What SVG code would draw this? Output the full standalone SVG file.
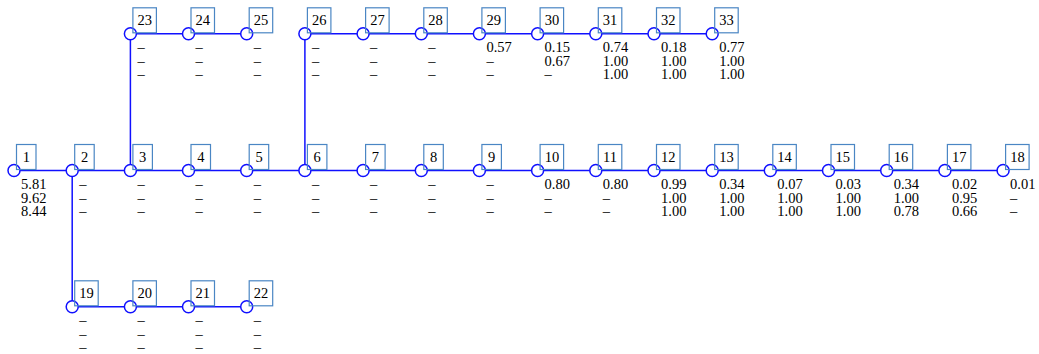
<svg xmlns="http://www.w3.org/2000/svg" width="1039" height="354" viewBox="0 0 1039 354">
<style>
.ln{stroke:#1010ff;stroke-width:1.5;fill:none}
.nd circle{fill:#fff;stroke:#1010ff;stroke-width:1.5}
.nd rect{fill:none;stroke:#4a86c4;stroke-width:1.2}
.lb{font-family:"Liberation Serif",serif;font-size:14.5px;fill:#000;text-anchor:middle}
.v{font-family:"Liberation Serif",serif;font-size:14.5px;fill:#000}
</style>
<rect width="1039" height="354" fill="#fff"/>
<g id="connectors">
<line class="ln" x1="14" y1="170.5" x2="1003.1" y2="170.5"/>
<line class="ln" x1="130.4" y1="33.8" x2="246.7" y2="33.8"/>
<line class="ln" x1="304.9" y1="33.8" x2="712.2" y2="33.8"/>
<line class="ln" x1="72.2" y1="306.8" x2="246.7" y2="306.8"/>
<line class="ln" x1="130.4" y1="33.8" x2="130.4" y2="170.5"/>
<line class="ln" x1="304.9" y1="33.8" x2="304.9" y2="170.5"/>
<line class="ln" x1="72.2" y1="170.5" x2="72.2" y2="306.8"/>
</g>
<g id="n1" class="nd"><circle cx="14" cy="170.5" r="6"/><rect x="16.5" y="144.5" width="19.5" height="25"/><text class="lb" x="26.3" y="161.5">1</text><text class="v" x="21" y="189">5.81<tspan x="21" y="202.5">9.62</tspan><tspan x="21" y="216">8.44</tspan></text></g>
<g id="n2" class="nd"><circle cx="72.2" cy="170.5" r="6"/><rect x="74.7" y="144.5" width="19.5" height="25"/><text class="lb" x="84.5" y="161.5">2</text><text class="v" x="79.2" y="189">–<tspan x="79.2" y="202.5">–</tspan><tspan x="79.2" y="216">–</tspan></text></g>
<g id="n3" class="nd"><circle cx="130.4" cy="170.5" r="6"/><rect x="132.9" y="144.5" width="19.5" height="25"/><text class="lb" x="142.7" y="161.5">3</text><text class="v" x="137.4" y="189">–<tspan x="137.4" y="202.5">–</tspan><tspan x="137.4" y="216">–</tspan></text></g>
<g id="n4" class="nd"><circle cx="188.5" cy="170.5" r="6"/><rect x="191" y="144.5" width="19.5" height="25"/><text class="lb" x="200.8" y="161.5">4</text><text class="v" x="195.5" y="189">–<tspan x="195.5" y="202.5">–</tspan><tspan x="195.5" y="216">–</tspan></text></g>
<g id="n5" class="nd"><circle cx="246.7" cy="170.5" r="6"/><rect x="249.2" y="144.5" width="19.5" height="25"/><text class="lb" x="259" y="161.5">5</text><text class="v" x="253.7" y="189">–<tspan x="253.7" y="202.5">–</tspan><tspan x="253.7" y="216">–</tspan></text></g>
<g id="n6" class="nd"><circle cx="304.9" cy="170.5" r="6"/><rect x="307.4" y="144.5" width="19.5" height="25"/><text class="lb" x="317.2" y="161.5">6</text><text class="v" x="311.9" y="189">–<tspan x="311.9" y="202.5">–</tspan><tspan x="311.9" y="216">–</tspan></text></g>
<g id="n7" class="nd"><circle cx="363.1" cy="170.5" r="6"/><rect x="365.6" y="144.5" width="19.5" height="25"/><text class="lb" x="375.4" y="161.5">7</text><text class="v" x="370.1" y="189">–<tspan x="370.1" y="202.5">–</tspan><tspan x="370.1" y="216">–</tspan></text></g>
<g id="n8" class="nd"><circle cx="421.3" cy="170.5" r="6"/><rect x="423.8" y="144.5" width="19.5" height="25"/><text class="lb" x="433.6" y="161.5">8</text><text class="v" x="428.3" y="189">–<tspan x="428.3" y="202.5">–</tspan><tspan x="428.3" y="216">–</tspan></text></g>
<g id="n9" class="nd"><circle cx="479.4" cy="170.5" r="6"/><rect x="481.9" y="144.5" width="19.5" height="25"/><text class="lb" x="491.7" y="161.5">9</text><text class="v" x="486.4" y="189">–<tspan x="486.4" y="202.5">–</tspan><tspan x="486.4" y="216">–</tspan></text></g>
<g id="n10" class="nd"><circle cx="537.6" cy="170.5" r="6"/><rect x="540.1" y="144.5" width="23.5" height="25"/><text class="lb" x="551.9" y="161.5">10</text><text class="v" x="544.6" y="189">0.80<tspan x="544.6" y="202.5">–</tspan><tspan x="544.6" y="216">–</tspan></text></g>
<g id="n11" class="nd"><circle cx="595.8" cy="170.5" r="6"/><rect x="598.3" y="144.5" width="23.5" height="25"/><text class="lb" x="610.1" y="161.5">11</text><text class="v" x="602.8" y="189">0.80<tspan x="602.8" y="202.5">–</tspan><tspan x="602.8" y="216">–</tspan></text></g>
<g id="n12" class="nd"><circle cx="654" cy="170.5" r="6"/><rect x="656.5" y="144.5" width="23.5" height="25"/><text class="lb" x="668.3" y="161.5">12</text><text class="v" x="661" y="189">0.99<tspan x="661" y="202.5">1.00</tspan><tspan x="661" y="216">1.00</tspan></text></g>
<g id="n13" class="nd"><circle cx="712.2" cy="170.5" r="6"/><rect x="714.7" y="144.5" width="23.5" height="25"/><text class="lb" x="726.5" y="161.5">13</text><text class="v" x="719.2" y="189">0.34<tspan x="719.2" y="202.5">1.00</tspan><tspan x="719.2" y="216">1.00</tspan></text></g>
<g id="n14" class="nd"><circle cx="770.3" cy="170.5" r="6"/><rect x="772.8" y="144.5" width="23.5" height="25"/><text class="lb" x="784.6" y="161.5">14</text><text class="v" x="777.3" y="189">0.07<tspan x="777.3" y="202.5">1.00</tspan><tspan x="777.3" y="216">1.00</tspan></text></g>
<g id="n15" class="nd"><circle cx="828.5" cy="170.5" r="6"/><rect x="831" y="144.5" width="23.5" height="25"/><text class="lb" x="842.8" y="161.5">15</text><text class="v" x="835.5" y="189">0.03<tspan x="835.5" y="202.5">1.00</tspan><tspan x="835.5" y="216">1.00</tspan></text></g>
<g id="n16" class="nd"><circle cx="886.7" cy="170.5" r="6"/><rect x="889.2" y="144.5" width="23.5" height="25"/><text class="lb" x="901" y="161.5">16</text><text class="v" x="893.7" y="189">0.34<tspan x="893.7" y="202.5">1.00</tspan><tspan x="893.7" y="216">0.78</tspan></text></g>
<g id="n17" class="nd"><circle cx="944.9" cy="170.5" r="6"/><rect x="947.4" y="144.5" width="23.5" height="25"/><text class="lb" x="959.2" y="161.5">17</text><text class="v" x="951.9" y="189">0.02<tspan x="951.9" y="202.5">0.95</tspan><tspan x="951.9" y="216">0.66</tspan></text></g>
<g id="n18" class="nd"><circle cx="1003.1" cy="170.5" r="6"/><rect x="1005.6" y="144.5" width="23.5" height="25"/><text class="lb" x="1017.4" y="161.5">18</text><text class="v" x="1010.1" y="189">0.01<tspan x="1010.1" y="202.5">–</tspan><tspan x="1010.1" y="216">–</tspan></text></g>
<g id="n19" class="nd"><circle cx="72.2" cy="306.8" r="6"/><rect x="74.7" y="280.8" width="23.5" height="25"/><text class="lb" x="86.5" y="297.8">19</text><text class="v" x="79.2" y="325.3">–<tspan x="79.2" y="338.8">–</tspan><tspan x="79.2" y="352.3">–</tspan></text></g>
<g id="n20" class="nd"><circle cx="130.4" cy="306.8" r="6"/><rect x="132.9" y="280.8" width="23.5" height="25"/><text class="lb" x="144.7" y="297.8">20</text><text class="v" x="137.4" y="325.3">–<tspan x="137.4" y="338.8">–</tspan><tspan x="137.4" y="352.3">–</tspan></text></g>
<g id="n21" class="nd"><circle cx="188.5" cy="306.8" r="6"/><rect x="191" y="280.8" width="23.5" height="25"/><text class="lb" x="202.8" y="297.8">21</text><text class="v" x="195.5" y="325.3">–<tspan x="195.5" y="338.8">–</tspan><tspan x="195.5" y="352.3">–</tspan></text></g>
<g id="n22" class="nd"><circle cx="246.7" cy="306.8" r="6"/><rect x="249.2" y="280.8" width="23.5" height="25"/><text class="lb" x="261" y="297.8">22</text><text class="v" x="253.7" y="325.3">–<tspan x="253.7" y="338.8">–</tspan><tspan x="253.7" y="352.3">–</tspan></text></g>
<g id="n23" class="nd"><circle cx="130.4" cy="33.8" r="6"/><rect x="132.9" y="7.8" width="23.5" height="25"/><text class="lb" x="144.7" y="24.8">23</text><text class="v" x="137.4" y="52.3">–<tspan x="137.4" y="65.8">–</tspan><tspan x="137.4" y="79.3">–</tspan></text></g>
<g id="n24" class="nd"><circle cx="188.5" cy="33.8" r="6"/><rect x="191" y="7.8" width="23.5" height="25"/><text class="lb" x="202.8" y="24.8">24</text><text class="v" x="195.5" y="52.3">–<tspan x="195.5" y="65.8">–</tspan><tspan x="195.5" y="79.3">–</tspan></text></g>
<g id="n25" class="nd"><circle cx="246.7" cy="33.8" r="6"/><rect x="249.2" y="7.8" width="23.5" height="25"/><text class="lb" x="261" y="24.8">25</text><text class="v" x="253.7" y="52.3">–<tspan x="253.7" y="65.8">–</tspan><tspan x="253.7" y="79.3">–</tspan></text></g>
<g id="n26" class="nd"><circle cx="304.9" cy="33.8" r="6"/><rect x="307.4" y="7.8" width="23.5" height="25"/><text class="lb" x="319.2" y="24.8">26</text><text class="v" x="311.9" y="52.3">–<tspan x="311.9" y="65.8">–</tspan><tspan x="311.9" y="79.3">–</tspan></text></g>
<g id="n27" class="nd"><circle cx="363.1" cy="33.8" r="6"/><rect x="365.6" y="7.8" width="23.5" height="25"/><text class="lb" x="377.4" y="24.8">27</text><text class="v" x="370.1" y="52.3">–<tspan x="370.1" y="65.8">–</tspan><tspan x="370.1" y="79.3">–</tspan></text></g>
<g id="n28" class="nd"><circle cx="421.3" cy="33.8" r="6"/><rect x="423.8" y="7.8" width="23.5" height="25"/><text class="lb" x="435.6" y="24.8">28</text><text class="v" x="428.3" y="52.3">–<tspan x="428.3" y="65.8">–</tspan><tspan x="428.3" y="79.3">–</tspan></text></g>
<g id="n29" class="nd"><circle cx="479.4" cy="33.8" r="6"/><rect x="481.9" y="7.8" width="23.5" height="25"/><text class="lb" x="493.7" y="24.8">29</text><text class="v" x="486.4" y="52.3">0.57<tspan x="486.4" y="65.8">–</tspan><tspan x="486.4" y="79.3">–</tspan></text></g>
<g id="n30" class="nd"><circle cx="537.6" cy="33.8" r="6"/><rect x="540.1" y="7.8" width="23.5" height="25"/><text class="lb" x="551.9" y="24.8">30</text><text class="v" x="544.6" y="52.3">0.15<tspan x="544.6" y="65.8">0.67</tspan><tspan x="544.6" y="79.3">–</tspan></text></g>
<g id="n31" class="nd"><circle cx="595.8" cy="33.8" r="6"/><rect x="598.3" y="7.8" width="23.5" height="25"/><text class="lb" x="610.1" y="24.8">31</text><text class="v" x="602.8" y="52.3">0.74<tspan x="602.8" y="65.8">1.00</tspan><tspan x="602.8" y="79.3">1.00</tspan></text></g>
<g id="n32" class="nd"><circle cx="654" cy="33.8" r="6"/><rect x="656.5" y="7.8" width="23.5" height="25"/><text class="lb" x="668.3" y="24.8">32</text><text class="v" x="661" y="52.3">0.18<tspan x="661" y="65.8">1.00</tspan><tspan x="661" y="79.3">1.00</tspan></text></g>
<g id="n33" class="nd"><circle cx="712.2" cy="33.8" r="6"/><rect x="714.7" y="7.8" width="23.5" height="25"/><text class="lb" x="726.5" y="24.8">33</text><text class="v" x="719.2" y="52.3">0.77<tspan x="719.2" y="65.8">1.00</tspan><tspan x="719.2" y="79.3">1.00</tspan></text></g>
</svg>
